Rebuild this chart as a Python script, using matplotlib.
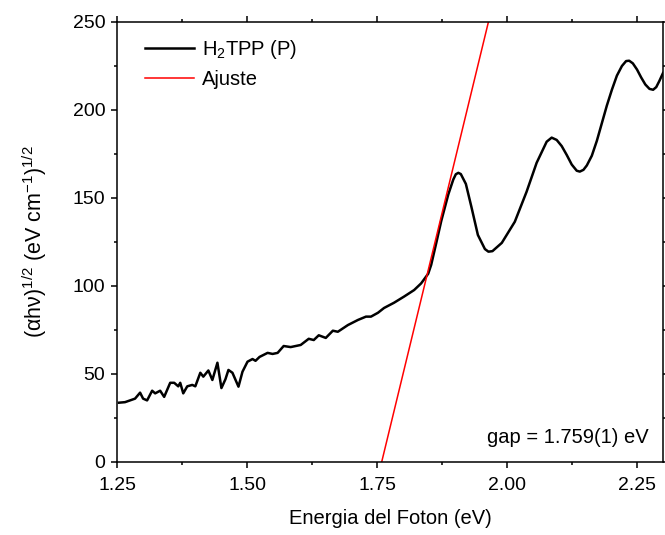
import numpy as np
import matplotlib
matplotlib.use("Agg")
import matplotlib.pyplot as plt
from matplotlib.ticker import MultipleLocator, FormatStrFormatter

# =========================
# DATA
# =========================
energy = [1.2539, 1.2654, 1.2751, 1.2847, 1.2944, 1.3002, 1.3079, 1.3176, 1.3234, 1.3330,
          1.3407, 1.3523, 1.3600, 1.3678, 1.3716, 1.3774, 1.3851, 1.3948, 1.4006, 1.4102,
          1.4160, 1.4257, 1.4334, 1.4431, 1.4508, 1.4585, 1.4643, 1.4720, 1.4836, 1.4913,
          1.5010, 1.5106, 1.5164, 1.5241, 1.5396, 1.5492, 1.5589, 1.5705, 1.5840, 1.6033,
          1.6187, 1.6284, 1.6380, 1.6515, 1.6651, 1.6747, 1.6940, 1.7133, 1.7288, 1.7384,
          1.7519, 1.7635, 1.7828, 1.8021, 1.8214, 1.8349, 1.8485, 1.8542, 1.8640, 1.8736,
          1.8871, 1.8967, 1.9016, 1.9064, 1.9112, 1.9209, 1.9315, 1.9440, 1.9575, 1.9643,
          1.9720, 1.9900, 2.0150, 2.0376, 2.0570, 2.0763, 2.0859, 2.0955, 2.1052, 2.1148,
          2.1245, 2.1341, 2.1400, 2.1470, 2.1535, 2.1631, 2.1728, 2.1824, 2.1920, 2.2017,
          2.2113, 2.2210, 2.2290, 2.2350, 2.2420, 2.2500, 2.2580, 2.2660, 2.2740, 2.2810,
          2.2870, 2.2930, 2.3000]
signal = [33.7, 34.0, 35.0, 36.0, 39.4, 36.0, 35.0, 40.5, 39.0, 40.5,
          37.0, 45.0, 45.0, 43.0, 45.0, 39.0, 43.0, 43.8, 43.0, 50.7,
          48.5, 52.0, 46.6, 56.4, 42.0, 47.0, 52.3, 50.7, 42.8, 51.3,
          57.0, 58.5, 57.5, 59.7, 62.0, 61.4, 62.0, 65.9, 65.3, 66.5,
          70.0, 69.3, 72.0, 70.5, 74.6, 74.0, 77.8, 80.7, 82.6, 82.6,
          84.8, 87.5, 90.5, 94.0, 97.7, 101.5, 107.0, 112.0, 124.5, 137.0,
          152.0, 160.5, 163.5, 164.3, 163.6, 158.0, 145.0, 129.0, 121.0, 119.5,
          119.8, 124.5, 136.5, 153.5, 170.0, 182.0, 184.3, 183.0, 179.5, 174.5,
          169.0, 165.5, 165.0, 166.0, 168.5, 174.0, 182.5, 192.5, 202.5, 211.5,
          219.5, 225.0, 227.8, 228.0, 226.5, 223.0, 218.5, 214.5, 212.0, 211.5,
          213.0, 216.5, 221.0]

gap = 1.759        # eV, x-intercept of the fit
slope = 1218.0     # fit slope
fit_range = [gap, 1.9643]

plt.rcParams["font.family"] = ["Liberation Sans", "DejaVu Sans"]
plt.rcParams["mathtext.fontset"] = "custom"
plt.rcParams["mathtext.rm"] = "Liberation Sans"
plt.rcParams["mathtext.it"] = "Liberation Sans"
plt.rcParams["mathtext.default"] = "regular"

# =========================
# PLOT
# =========================
fig = plt.figure(figsize=(6.65, 5.35), dpi=100)
ax = fig.add_axes([117 / 665, 73 / 535, 546 / 665, 440 / 535])

ax.plot(energy, signal, color="black", lw=1.8, label="H$_2$TPP (P)")
fit_x = np.array(fit_range)
ax.plot(fit_x, slope * (fit_x - gap), color="red", lw=1.1, label="Ajuste")

ax.set_xlim(1.25, 2.30)
ax.set_ylim(0, 250)
ax.xaxis.set_major_locator(MultipleLocator(0.25))
ax.xaxis.set_minor_locator(MultipleLocator(0.125))
ax.yaxis.set_major_locator(MultipleLocator(50))
ax.yaxis.set_minor_locator(MultipleLocator(25))
ax.xaxis.set_major_formatter(FormatStrFormatter("%.2f"))

ax.tick_params(which="both", direction="out", top=True, right=True,
               width=1.1, labelsize=14, colors="black")
ax.tick_params(which="major", length=4.5)
ax.tick_params(axis="x", which="major", pad=6)
ax.tick_params(axis="y", which="major", pad=4)
ax.tick_params(which="minor", length=2.5)
for s in ax.spines.values():
    s.set_linewidth(1.1)

ax.set_xlabel("Energia del Foton (eV)", fontsize=14.5, labelpad=11)
ax.set_ylabel(r"$(\alpha h\nu)^{1/2}$ (eV cm$^{-1}$)$^{1/2}$", fontsize=15.5, labelpad=17)

ax.legend(loc="upper left", frameon=False, fontsize=14.5, handlelength=2.4,
          handletextpad=0.4, labelspacing=0.45, borderaxespad=0.6,
          bbox_to_anchor=(0.015, 1.01))

ax.text(0.974, 0.055, "gap = 1.759(1) eV", transform=ax.transAxes,
        ha="right", va="center", fontsize=14.5)

fig.savefig("out.png", dpi=100)
